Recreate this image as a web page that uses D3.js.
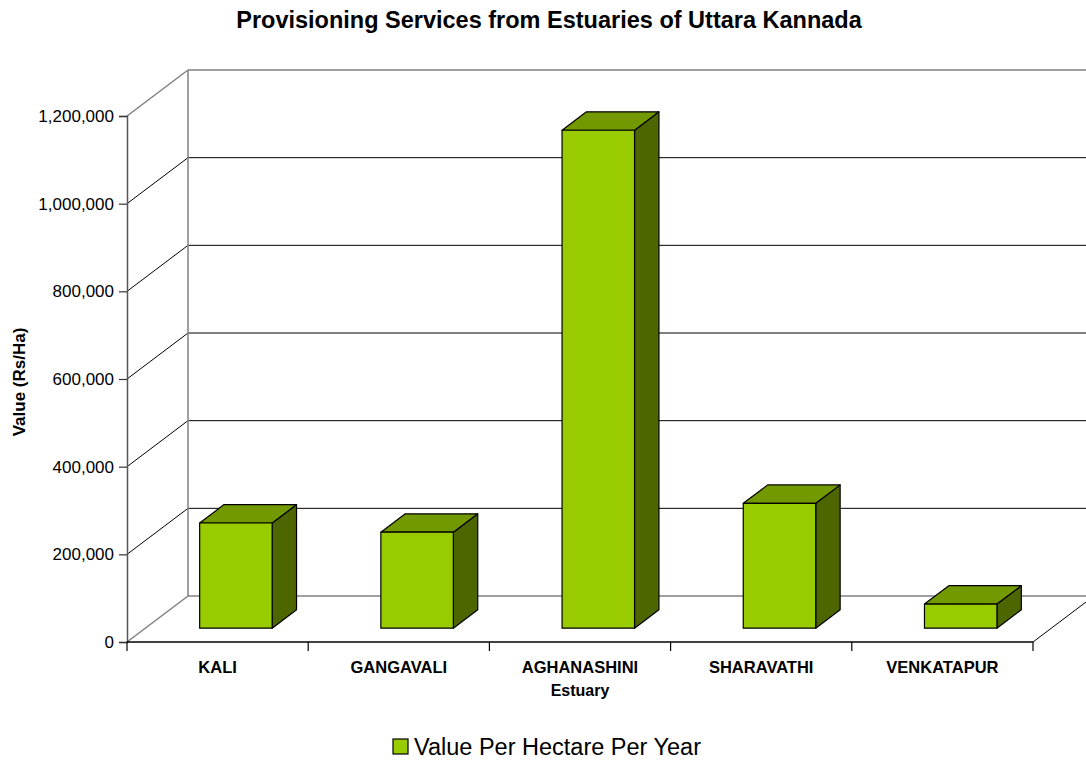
<!DOCTYPE html>
<html lang="en">
<head>
<meta charset="utf-8">
<title>Provisioning Services from Estuaries of Uttara Kannada</title>
<script src="https://d3js.org/d3.v7.min.js"></script>
<style>
  body { margin: 0; background: #fff; }
  text { font-family: "Liberation Sans", Arial, sans-serif; fill: #000; }
</style>
</head>
<body>
<script>
// data
const estuaries = ["KALI", "GANGAVALI", "AGHANASHINI", "SHARAVATHI", "VENKATAPUR"];
const valuePerHa = [240000, 219000, 1136000, 285000, 55000];
const yTicks = [0, 200000, 400000, 600000, 800000, 1000000, 1200000];

const w = 1086, h = 760;
const plotLeft = 127, plotRight = 1033, plotBottom = 642, plotTop = 116;
// depth offset of the back wall (oblique 3D)
const depthX = 61, depthY = -46;
const barFront = 0.3, barBack = 0.7;

const svg = d3.select("body").append("svg")
  .attr("width", w).attr("height", h);

const x = d3.scaleBand().domain(estuaries).range([plotLeft, plotRight])
  .paddingInner(0.6).paddingOuter(0.3);
const y = d3.scaleLinear().domain([0, 1200000]).range([plotBottom, plotTop]);

// project a front-plane point to depth t (0 = front, 1 = back)
function p(px, py, t) { return [px + depthX * t, py + depthY * t]; }
const line = pts => "M" + pts.map(d => d.join(",")).join("L");

// back wall gridlines
const walls = svg.append("g");
yTicks.forEach(v => {
  const edge = v === 0 || v === 1200000;
  walls.append("path")
    .attr("d", line([p(plotLeft, y(v), 1), p(w + 20, y(v), 1)]))
    .attr("stroke", edge ? "#808080" : "#000").attr("stroke-width", edge ? 1.5 : 1).attr("fill", "none");
  // side wall diagonals
  walls.append("path")
    .attr("d", line([p(plotLeft, y(v), 0), p(plotLeft, y(v), 1)]))
    .attr("stroke", edge ? "#808080" : "#000").attr("stroke-width", edge ? 1.5 : 1).attr("fill", "none");
});
// back wall left edge
walls.append("path")
  .attr("d", line([p(plotLeft, y(0), 1), p(plotLeft, y(1200000), 1)]))
  .attr("stroke", "#808080").attr("stroke-width", 1.5).attr("fill", "none");
// floor right edge
walls.append("path")
  .attr("d", line([p(plotRight, y(0), 0), p(plotRight, y(0), 1)]))
  .attr("stroke", "#000").attr("fill", "none");

// bars
const bars = svg.append("g").selectAll("g")
  .data(estuaries.map((c, i) => ({ c: c, v: valuePerHa[i] })))
  .join("g");

bars.each(function(d) {
  const g = d3.select(this);
  const x0 = x(d.c), x1 = x(d.c) + x.bandwidth();
  const y0 = y(0), y1 = y(d.v);
  const f = barFront, b = barBack;
  // side face
  g.append("path")
    .attr("d", line([p(x1, y0, f), p(x1, y0, b), p(x1, y1, b), p(x1, y1, f)]) + "Z")
    .attr("fill", "#4d6600").attr("stroke", "#000").attr("stroke-width", 1.2).attr("stroke-linejoin", "round");
  // top face
  g.append("path")
    .attr("d", line([p(x0, y1, f), p(x0, y1, b), p(x1, y1, b), p(x1, y1, f)]) + "Z")
    .attr("fill", "#739900").attr("stroke", "#000").attr("stroke-width", 1.2).attr("stroke-linejoin", "round");
  // front face
  g.append("path")
    .attr("d", line([p(x0, y0, f), p(x0, y1, f), p(x1, y1, f), p(x1, y0, f)]) + "Z")
    .attr("fill", "#99cc00").attr("stroke", "#000").attr("stroke-width", 1.2).attr("stroke-linejoin", "round");
});

// y axis
const yAxis = svg.append("g")
  .attr("transform", "translate(" + plotLeft + ",0)")
  .call(d3.axisLeft(y).tickValues(yTicks).tickSize(8).tickPadding(5).tickFormat(d3.format(",")));
yAxis.select(".domain").attr("stroke", "#555").attr("stroke-width", 1.5);
yAxis.selectAll(".tick line").attr("stroke", "#333").attr("stroke-width", 1.2);
yAxis.selectAll("text").style("font-size", "17px").style("font-family", "'Liberation Sans', Arial, sans-serif").attr("fill", "#000");

// x axis (front floor edge)
svg.append("path")
  .attr("d", line([[plotLeft, plotBottom], [plotRight, plotBottom]]))
  .attr("stroke", "#000").attr("stroke-width", 1.5);
const catTicks = estuaries.map(c => x(c) - x.step() * x.paddingInner() / 2).concat([plotRight]);
catTicks[0] = plotLeft;
svg.append("g").selectAll("line").data(catTicks).join("line")
  .attr("x1", d => d).attr("x2", d => d)
  .attr("y1", plotBottom).attr("y2", plotBottom + 9)
  .attr("stroke", "#000").attr("stroke-width", 1.2);
svg.append("g").selectAll("text").data(estuaries).join("text")
  .attr("x", d => x(d) + x.bandwidth() / 2)
  .attr("y", 673)
  .attr("text-anchor", "middle")
  .style("font-size", "16.5px").style("font-weight", "bold")
  .text(d => d);

// titles
svg.append("text").attr("x", 549).attr("y", 28).attr("text-anchor", "middle")
  .style("font-size", "23.5px").style("font-weight", "bold")
  .text("Provisioning Services from Estuaries of Uttara Kannada");
svg.append("text").attr("x", 580).attr("y", 696).attr("text-anchor", "middle")
  .style("font-size", "16px").style("font-weight", "bold")
  .text("Estuary");
svg.append("text").attr("transform", "translate(25,382) rotate(-90)").attr("text-anchor", "middle")
  .style("font-size", "17px").style("font-weight", "bold")
  .text("Value (Rs/Ha)");

// legend
const legend = svg.append("g").attr("transform", "translate(393,739)");
legend.append("rect").attr("width", 15).attr("height", 15)
  .attr("fill", "#99cc00").attr("stroke", "#000").attr("stroke-width", 1.2);
legend.append("text").attr("x", 21).attr("y", 16)
  .style("font-size", "23.5px").text("Value Per Hectare Per Year");
</script>
</body>
</html>
